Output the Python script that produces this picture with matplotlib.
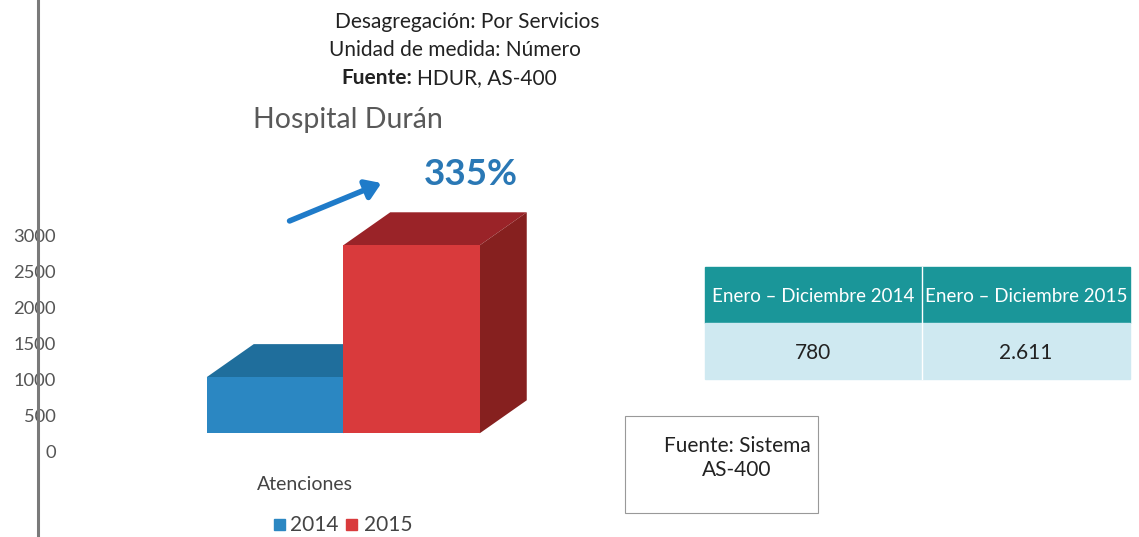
import matplotlib.pyplot as plt
from matplotlib.patches import Polygon, FancyArrowPatch, Rectangle

# data
years = ["2014", "2015"]
atenciones = [780, 2611]
bar_colors = {"front": ["#2b87c2", "#d93a3c"],
              "top": ["#1f6e9c", "#9a2328"],
              "side": ["#1a5c84", "#86201f"]}
yticks = [0, 500, 1000, 1500, 2000, 2500, 3000]
table_header = ["Enero – Diciembre 2014", "Enero – Diciembre 2015"]
table_values = ["780", "2.611"]
growth = "335%"

plt.rcParams['font.family'] = ['Lato', 'DejaVu Sans']

W, H = 1139, 537
fig = plt.figure(figsize=(W / 100, H / 100), dpi=100)
fig.patch.set_facecolor("white")

# axes covering full height, left spine at x=38px
px_per_unit = 136.5
x0_px = 275
ax_left, ax_right = 38, 700
ax = fig.add_axes([ax_left / W, 0, (ax_right - ax_left) / W, 1])
ax.set_xlim((ax_left - x0_px) / px_per_unit, (ax_right - x0_px) / px_per_unit)
ppu_y = 216 / 3000
ax.set_ylim(-(H - 452) / ppu_y, 452 / ppu_y)
ax.patch.set_alpha(0)
for s in ["top", "right", "bottom"]:
    ax.spines[s].set_visible(False)
ax.spines["left"].set_color("#7a7a7a")
ax.spines["left"].set_linewidth(2.2)
ax.set_xticks([])
ax.set_yticks(yticks)
ax.set_yticklabels([str(t) for t in yticks])
ax.tick_params(axis="y", length=0, pad=-13, labelsize=13.2, labelcolor="#555555")

# pseudo-3D bars
base = 260
dx = 47 / px_per_unit
dy = 33 / ppu_y
for i, (yr, v) in enumerate(zip(years, atenciones)):
    l, r = i - 0.5, i + 0.5
    top = base + v
    ax.add_patch(Polygon([(l, top), (r, top), (r + dx, top + dy), (l + dx, top + dy)],
                         closed=True, facecolor=bar_colors["top"][i], edgecolor="none", zorder=2 + i))
    ax.add_patch(Polygon([(r, base), (r + dx, base + dy), (r + dx, top + dy), (r, top)],
                         closed=True, facecolor=bar_colors["side"][i], edgecolor="none", zorder=2 + i))
    ax.bar(i, v, width=1.0, bottom=base, color=bar_colors["front"][i],
           edgecolor="none", zorder=2.5 + i)

# text blocks
fig.text(467 / W, 1 - 22 / H, "Desagregación: Por Servicios", ha="center", va="center",
         fontsize=15, color="#222222")
fig.text(455 / W, 1 - 50 / H, "Unidad de medida: Número", ha="center", va="center",
         fontsize=15, color="#222222")
src = fig.text(341 / W, 1 - 78 / H, "Fuente:", ha="left", va="center",
               fontsize=15, color="#222222", fontweight="bold")
fig.add_artist(plt.Annotation("HDUR, AS-400", xy=(1, 0.5), xycoords=src,
                              xytext=(4, 0), textcoords="offset points",
                              ha="left", va="center", fontsize=15, color="#222222"))
fig.text(253 / W, 1 - 120 / H, "Hospital Durán", ha="left", va="center",
         fontsize=20.5, color="#595959")
fig.text(471 / W, 1 - 175 / H, growth, ha="center", va="center",
         fontsize=26.5, color="#2a78b5", fontweight="bold")
fig.add_artist(FancyArrowPatch((287 / W, 1 - 222 / H), (384 / W, 1 - 182 / H),
                               transform=fig.transFigure, arrowstyle="-|>,head_length=3,head_width=2",
                               mutation_scale=3, color="#1f7bc9", linewidth=4))

fig.text(305 / W, 1 - 485 / H, "Atenciones", ha="center", va="center",
         fontsize=14, color="#444444")

# legend
fig.add_artist(Rectangle((274 / W, 1 - 530 / H), 11 / W, 11 / H,
                         transform=fig.transFigure, color=bar_colors["front"][0]))
fig.text(290 / W, 1 - 525 / H, years[0], ha="left", va="center", fontsize=15, color="#444444")
fig.add_artist(Rectangle((346 / W, 1 - 530 / H), 11 / W, 11 / H,
                         transform=fig.transFigure, color=bar_colors["front"][1]))
fig.text(364 / W, 1 - 525 / H, years[1], ha="left", va="center", fontsize=15, color="#444444")

# table
tx = [705, 922, 1130]
fig.add_artist(Rectangle((tx[0] / W, 1 - 323 / H), (tx[2] - tx[0]) / W, 56 / H,
                         transform=fig.transFigure, color="#1a9699"))
fig.add_artist(Rectangle((tx[0] / W, 1 - 379 / H), (tx[2] - tx[0]) / W, 56 / H,
                         transform=fig.transFigure, color="#cfe9f1"))
fig.add_artist(plt.Line2D([tx[1] / W, tx[1] / W], [1 - 267 / H, 1 - 379 / H],
                          transform=fig.transFigure, color="white", linewidth=1))
for j in range(2):
    cx = (tx[j] + tx[j + 1]) / 2
    fig.text(cx / W, 1 - 296 / H, table_header[j], ha="center", va="center",
             fontsize=13.5, color="white")
    fig.text(cx / W, 1 - 353 / H, table_values[j], ha="center", va="center",
             fontsize=15, color="#222222")

# source box
fig.add_artist(Rectangle((625 / W, 1 - 513 / H), 193 / W, 97 / H, transform=fig.transFigure,
                         facecolor="white", edgecolor="#999999", linewidth=0.8))
fig.text(737 / W, 1 - 458 / H, "Fuente: Sistema\nAS-400", ha="center", va="center",
         multialignment="center", fontsize=15, color="#222222", linespacing=1.3)

fig.savefig("out.png", dpi=100)
